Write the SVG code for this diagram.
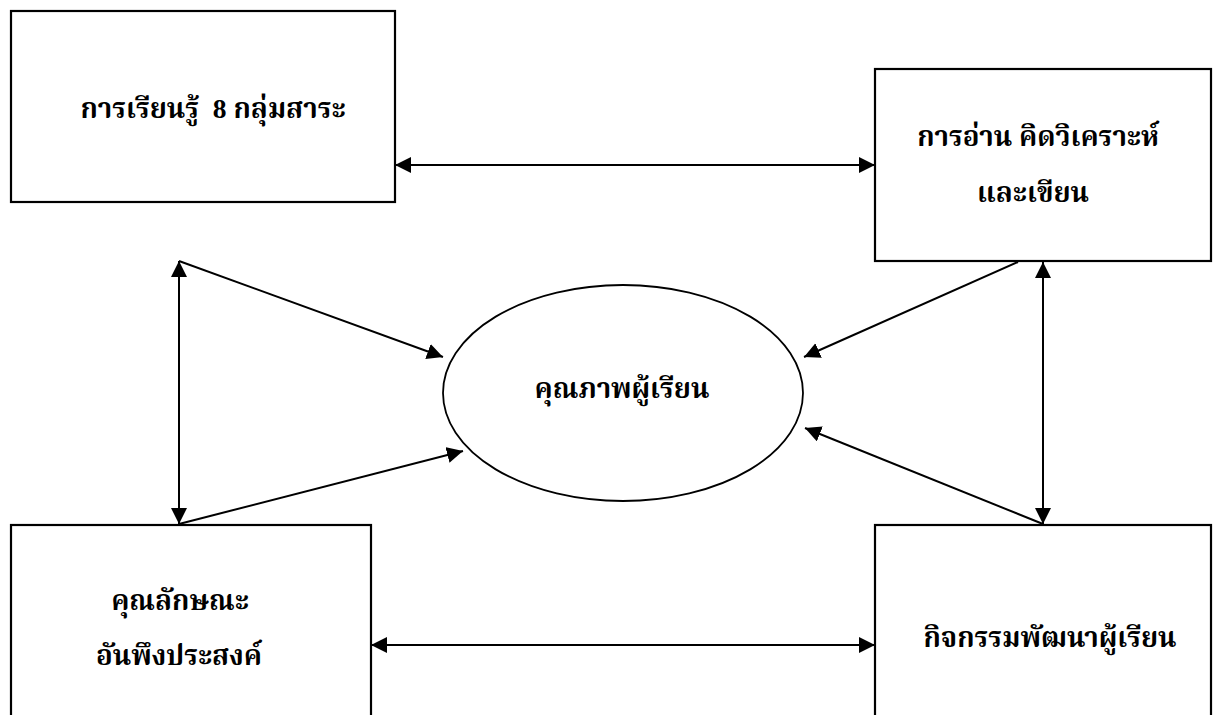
<svg xmlns="http://www.w3.org/2000/svg" width="1214" height="715" viewBox="0 0 1214 715">
<style>
.box{fill:#fff;stroke:#000;stroke-width:2.2}
.ell{fill:#fff;stroke:#000;stroke-width:1.8}
.con{stroke:#000;stroke-width:2;fill:none}
.t{font-family:"Liberation Serif","Noto Serif Thai","Noto Sans Thai",serif;font-weight:bold;font-size:27.5px;fill:#000;text-anchor:middle}
</style>
<defs>
<marker id="ah" markerUnits="userSpaceOnUse" markerWidth="18" markerHeight="18" refX="16" refY="8" orient="auto-start-reverse">
<path d="M0,0 L16,8 L0,16 Z" fill="#000"/>
</marker>
</defs>
<rect width="1214" height="715" fill="#fff"/>
<g id="connectors">
<line class="con" x1="395" y1="165" x2="875" y2="165" marker-start="url(#ah)" marker-end="url(#ah)"/>
<line class="con" x1="371" y1="645" x2="875" y2="645" marker-start="url(#ah)" marker-end="url(#ah)"/>
<line class="con" x1="179" y1="261" x2="179" y2="524" marker-start="url(#ah)" marker-end="url(#ah)"/>
<line class="con" x1="1043" y1="262" x2="1043" y2="524" marker-start="url(#ah)" marker-end="url(#ah)"/>
<line class="con" x1="179" y1="261" x2="443" y2="357" marker-end="url(#ah)"/>
<line class="con" x1="179" y1="524" x2="463" y2="451" marker-end="url(#ah)"/>
<line class="con" x1="1018" y1="262" x2="804" y2="357" marker-end="url(#ah)"/>
<line class="con" x1="1043" y1="524" x2="805" y2="428" marker-end="url(#ah)"/>
</g>
<g id="n-learning">
<rect class="box" x="11" y="11" width="384" height="191"/>
<text class="t" x="213" y="118" xml:space="preserve">การเรียนรู้  8 กลุ่มสาระ</text>
</g>
<g id="n-reading">
<rect class="box" x="875" y="69" width="336" height="192"/>
<text class="t" x="1038" y="146">การอ่าน คิดวิเคราะห์</text>
<text class="t" x="1033" y="202">และเขียน</text>
</g>
<g id="n-quality">
<ellipse class="ell" cx="623" cy="393" rx="180" ry="108"/>
<text class="t" x="622" y="398">คุณภาพผู้เรียน</text>
</g>
<g id="n-character">
<rect class="box" x="11" y="525" width="360" height="200"/>
<text class="t" x="180" y="610">คุณลักษณะ</text>
<text class="t" x="179" y="665">อันพึงประสงค์</text>
</g>
<g id="n-activity">
<rect class="box" x="875" y="525" width="336" height="200"/>
<text class="t" x="1050" y="647">กิจกรรมพัฒนาผู้เรียน</text>
</g>
</svg>
